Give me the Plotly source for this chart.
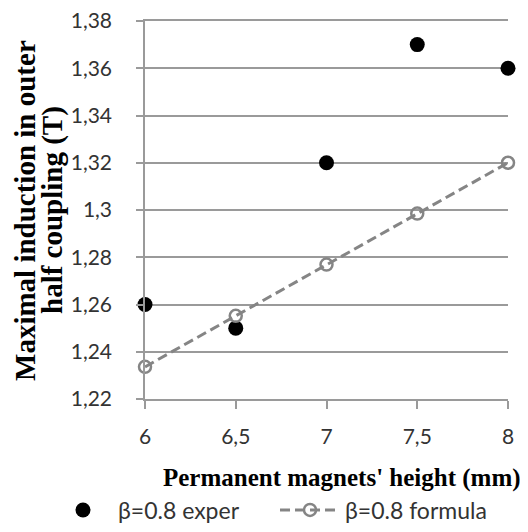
import plotly.graph_objects as go

heights = [6, 6.5, 7, 7.5, 8]
exper = [1.26, 1.25, 1.32, 1.37, 1.36]
formula = [1.2336, 1.2552, 1.2769, 1.2985, 1.32]
x_ticks = [6, 6.5, 7, 7.5, 8]
x_tick_text = ["6", "6,5", "7", "7,5", "8"]
y_ticks = [1.22, 1.24, 1.26, 1.28, 1.30, 1.32, 1.34, 1.36, 1.38]
y_tick_text = ["1,22", "1,24", "1,26", "1,28", "1,3", "1,32", "1,34", "1,36", "1,38"]
x_title = "Permanent magnets' height (mm)"
y_title_lines = ["Maximal induction in outer", "half coupling (T)"]

fig = go.Figure()
fig.add_trace(go.Scatter(
    x=heights, y=exper, mode="markers", name="β=0.8 exper",
    marker=dict(color="black", size=15), cliponaxis=False, legend="legend"))
fig.add_trace(go.Scatter(
    x=heights, y=formula, mode="lines+markers", name="β=0.8 formula",
    line=dict(color="#858585", width=3, dash="10px,5px"),
    marker=dict(symbol="circle-open", color="#858585", size=12, line=dict(width=2.5)),
    cliponaxis=False, legend="legend2"))

tickfont = dict(family="Lato", size=21, color="#333333")
titlefont = dict(family="Liberation Serif", size=25, color="black")
ytitlefont = dict(family="Liberation Serif", size=29, color="black")
legendfont = dict(family="Lato", size=23, color="#333333")

annotations = [
    dict(text="<b>" + x_title + "</b>", xref="paper", yref="paper", x=0.543, y=-0.209,
         xanchor="center", yanchor="middle", showarrow=False, font=titlefont),
    dict(text="<b>" + y_title_lines[0] + "</b>", xref="paper", yref="paper", x=-0.3306, y=0.5,
         xanchor="center", yanchor="middle", showarrow=False, textangle=-90, font=ytitlefont),
    dict(text="<b>" + y_title_lines[1] + "</b>", xref="paper", yref="paper", x=-0.2562, y=0.5,
         xanchor="center", yanchor="middle", showarrow=False, textangle=-90, font=ytitlefont),
]

fig.update_layout(
    width=520, height=524,
    margin=dict(l=137, r=20, t=13, b=133),
    plot_bgcolor="white", paper_bgcolor="white",
    showlegend=True,
    annotations=annotations,
    legend=dict(orientation="h", xref="container", yref="container",
                x=0.0769, y=0.042, xanchor="left", yanchor="middle",
                font=legendfont, itemwidth=60, bgcolor="rgba(0,0,0,0)"),
    legend2=dict(orientation="h", xref="container", yref="container",
                 x=0.5135, y=0.042, xanchor="left", yanchor="middle",
                 font=legendfont, itemwidth=60, bgcolor="rgba(0,0,0,0)"),
    xaxis=dict(range=[6, 8], tickvals=x_ticks, ticktext=x_tick_text,
               showgrid=False, showline=True, mirror=True, linecolor="#9a9a9a", linewidth=1.5,
               ticks="outside", ticklen=8, tickcolor="#9a9a9a", tickwidth=1.5,
               tickfont=tickfont, zeroline=False, automargin=False,
               ticklabelstandoff=10, ticklabeloverflow="allow"),
    yaxis=dict(range=[1.22, 1.38], tickvals=y_ticks, ticktext=y_tick_text,
               showgrid=True, gridcolor="#9a9a9a", gridwidth=1.5,
               showline=True, linecolor="#9a9a9a", linewidth=1.5,
               ticks="outside", ticklen=7, tickcolor="#9a9a9a", tickwidth=1.5,
               tickfont=tickfont, zeroline=False, automargin=False,
               ticklabelstandoff=20, ticklabeloverflow="allow"),
)

fig.write_html("out.html")
